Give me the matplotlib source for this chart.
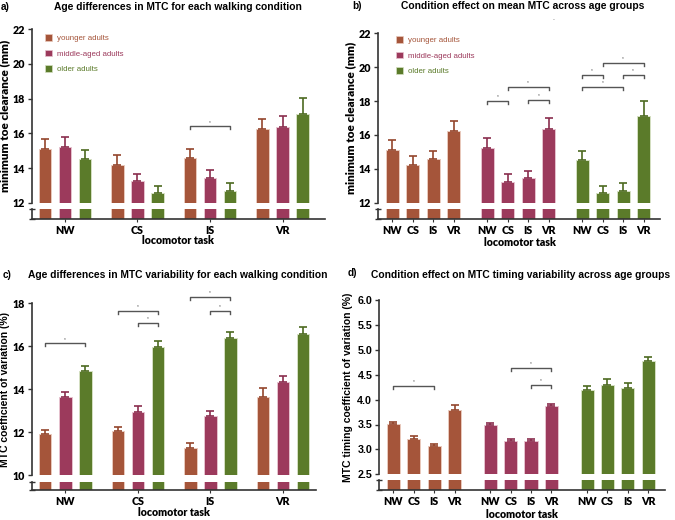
import numpy as np
import matplotlib.pyplot as plt
from matplotlib.patches import Patch

plt.rcParams['font.family'] = ['Liberation Sans', 'DejaVu Sans']

W, H = 675, 520

tasks = ['NW', 'CS', 'IS', 'VR']
groups = ['younger adults', 'middle-aged adults', 'older adults']
colors = ['#a5553a', '#9c3a5c', '#5b7b2a']
edge_colors = ['#e9cabd', '#e6c2cf', '#d5e0c2']
err_colors = ['#93452c', '#8a2d4e', '#4d6a20']

# mean minimum toe clearance (mm), one list per age group (NW, CS, IS, VR)
mtc_young = [15.12, 14.20, 14.58, 16.23]
mtc_middle = [15.23, 13.25, 13.43, 16.35]
mtc_older = [14.53, 12.57, 12.68, 17.14]
mtc_young_err = [0.56, 0.53, 0.50, 0.62]
mtc_middle_err = [0.56, 0.43, 0.46, 0.63]
mtc_older_err = [0.51, 0.41, 0.47, 0.88]

# MTC coefficient of variation (%)
cv_young = [11.91, 12.03, 11.27, 13.65]
cv_middle = [13.62, 12.95, 12.75, 14.35]
cv_older = [14.83, 15.95, 16.38, 16.57]
cv_young_err = [0.17, 0.19, 0.21, 0.42]
cv_middle_err = [0.26, 0.26, 0.23, 0.26]
cv_older_err = [0.25, 0.31, 0.27, 0.31]

# MTC timing coefficient of variation (%)
tim_young = [3.51, 3.21, 3.06, 3.80]
tim_middle = [3.50, 3.17, 3.17, 3.87]
tim_older = [4.20, 4.29, 4.24, 4.78]
tim_young_err = [0.04, 0.05, 0.04, 0.10]
tim_middle_err = [0.04, 0.03, 0.03, 0.05]
tim_older_err = [0.08, 0.13, 0.09, 0.08]

# significance brackets: (group1, task1, group2, task2, height)
sig_a = [(0, 2, 2, 2, 16.4)]
sig_b = [(1, 0, 1, 1, 18.0), (1, 1, 1, 3, 18.85), (1, 2, 1, 3, 18.05),
         (2, 0, 2, 1, 19.55), (2, 1, 2, 3, 20.25), (2, 2, 2, 3, 19.55),
         (2, 0, 2, 2, 18.85)]
sig_c = [(0, 0, 2, 0, 16.13), (0, 1, 2, 1, 17.66), (1, 1, 2, 1, 17.07),
         (0, 2, 2, 2, 18.28), (1, 2, 2, 2, 17.64)]
sig_d = [(0, 0, 0, 2, 4.27), (1, 1, 1, 3, 4.64), (1, 2, 1, 3, 4.29)]

fig = plt.figure(figsize=(W / 100, H / 100), dpi=100)


def px_axes(x0, x1, ytop, ybot):
    return fig.add_axes([x0 / W, 1 - ybot / H, (x1 - x0) / W, (ybot - ytop) / H])


def bar_x(g, by_task, gap):
    if by_task:
        return np.arange(4) + (g - 1) * 0.276
    return g * gap + np.arange(4)


def draw_panel(top, strip, xlim, ylim, yticks, ytl, means, errs, sigs,
               by_task, gap=1.0, tick_font='Lato', ylabel='', ylab_font='Lato',
               ylab_size=7.5, tick_weight='heavy'):
    ax = px_axes(*top)
    ax2 = px_axes(*strip)
    width = 0.172 if by_task else 0.64
    for g in range(3):
        xs = bar_x(g, by_task, gap)
        for a in (ax, ax2):
            a.bar(xs, means[g], width, color=colors[g], edgecolor=edge_colors[g],
                  linewidth=0.7)
        ax.errorbar(xs, means[g], yerr=[np.zeros(4), errs[g]], fmt='none',
                    ecolor=err_colors[g], elinewidth=1.2, capsize=2.6, capthick=1.2)
    ax.set_xlim(*xlim)
    ax.set_ylim(*ylim)
    ax2.set_xlim(*xlim)
    ax2.set_ylim(0, 1)
    for s in ('top', 'right', 'bottom'):
        ax.spines[s].set_visible(False)
    for s in ('top', 'right'):
        ax2.spines[s].set_visible(False)
    for a in (ax, ax2):
        for s in ('left', 'bottom'):
            a.spines[s].set_color('#333333')
            a.spines[s].set_linewidth(1.2)
    ax.set_xticks([])
    ax.set_yticks(yticks)
    ax.set_yticklabels(ytl, fontfamily=tick_font, fontweight=tick_weight, fontsize=7.7)
    ax.tick_params(axis='y', length=3, width=1, color='#333333', pad=2)
    ax2.set_yticks([0, 1])
    ax2.set_yticklabels([])
    ax2.tick_params(axis='y', length=4, width=1, direction='inout', color='#333333')
    if by_task:
        ax2.set_xticks(np.arange(4))
        ax2.set_xticklabels(tasks)
    else:
        ax2.set_xticks(np.concatenate([bar_x(g, False, gap) for g in range(3)]))
        ax2.set_xticklabels(tasks * 3)
    for t in ax2.get_xticklabels():
        t.set_fontfamily(tick_font)
        t.set_fontweight(tick_weight)
        t.set_fontsize(7.7)
    ax2.tick_params(axis='x', length=2, width=0.8, pad=2, color='#333333')
    ax.set_ylabel(ylabel, fontfamily=ylab_font, fontweight=tick_weight if ylab_font == 'Lato' else 'bold',
                  fontsize=ylab_size)

    # brackets
    hpx = (top[3] - top[2])
    drop = 3.0 * (ylim[1] - ylim[0]) / hpx
    for g1, t1, g2, t2, y in sigs:
        x1 = bar_x(g1, by_task, gap)[t1]
        x2 = bar_x(g2, by_task, gap)[t2]
        ax.plot([x1, x1, x2, x2], [y - drop, y, y, y - drop], color='#555555', lw=1.0,
                clip_on=False)
        ax.text((x1 + x2) / 2, y + drop * 0.6, '*', ha='center', va='bottom',
                fontsize=3.5, color='#555555')
    return ax, ax2


# a)
ax_a, ax_a2 = draw_panel((32, 325, 29.3, 202.7), (32, 325, 209.3, 219), (-0.455, 3.586),
                         (12, 22), [12, 14, 16, 18, 20, 22],
                         ['12', '14', '16', '18', '20', '22'],
                         [mtc_young, mtc_middle, mtc_older],
                         [mtc_young_err, mtc_middle_err, mtc_older_err],
                         sig_a, True, ylabel='minimum toe clearance (mm)', ylab_size=8.5)
# b)
ax_b, ax_b2 = draw_panel((377.7, 660, 33.3, 202.7), (377.7, 660, 209.3, 219), (-0.71, 13.06),
                         (12, 22), [12, 14, 16, 18, 20, 22],
                         ['12', '14', '16', '18', '20', '22'],
                         [mtc_young, mtc_middle, mtc_older],
                         [mtc_young_err, mtc_middle_err, mtc_older_err],
                         sig_b, False, gap=4.63, ylabel='minimum toe clearance (mm)', ylab_size=8.5)
# c)
ax_c, ax_c2 = draw_panel((31.7, 316, 303.3, 475), (31.7, 316, 481.7, 490), (-0.463, 3.458),
                         (10, 18), [10, 12, 14, 16, 18],
                         ['10', '12', '14', '16', '18'],
                         [cv_young, cv_middle, cv_older],
                         [cv_young_err, cv_middle_err, cv_older_err],
                         sig_c, True, ylabel='MTC coefficient of variation (%)',
                         ylab_font='Liberation Sans', ylab_size=7.5)
# d)
ax_d, ax_d2 = draw_panel((379.3, 665, 300, 474.3), (379.3, 665, 480, 490), (-0.69, 13.32),
                         (2.5, 6.0), [2.5, 3.0, 3.5, 4.0, 4.5, 5.0, 5.5, 6.0],
                         ['2.5', '3.0', '3.5', '4.0', '4.5', '5.0', '5.5', '6.0'],
                         [tim_young, tim_middle, tim_older],
                         [tim_young_err, tim_middle_err, tim_older_err],
                         sig_d, False, gap=4.75, tick_font='Liberation Sans',
                         ylabel='MTC timing coefficient of variation (%)',
                         ylab_font='Liberation Sans', tick_weight='bold')
for t in ax_d2.get_xticklabels():
    t.set_fontfamily('Lato')
    t.set_fontweight('heavy')

ax_a.yaxis.set_label_coords(-22 / 293, 0.5)
ax_b.yaxis.set_label_coords(-22 / 282.3, 0.5)
ax_c.yaxis.set_label_coords(-22 / 284.3, 0.5)
ax_d.yaxis.set_label_coords(-26 / 285.7, 0.5)

# x labels
for x, y in [(178, 241), (520, 243), (174, 513), (522, 514)]:
    fig.text(x / W, 1 - y / H, 'locomotor task', ha='center', va='center',
             fontfamily='Lato', fontweight='heavy', fontsize=7.7)

# titles
titles = [
    (1, 7, 'a)', 177.5, 7, 'Age differences in MTC for each walking condition'),
    (352, 6, 'b)', 523, 6, 'Condition effect on mean MTC across age groups'),
    (3, 275, 'c)', 177.5, 275, 'Age differences in MTC variability for each walking condition'),
    (348, 273, 'd)', 521, 275.5, 'Condition effect on MTC timing variability across age groups'),
]
for lx, ly, lab, tx, ty, txt in titles:
    fig.text(lx / W, 1 - ly / H, lab, ha='left', va='center', fontweight='bold', fontsize=7.2)
    fig.text(tx / W, 1 - ty / H, txt, ha='center', va='center', fontweight='bold', fontsize=7.35)

fig.text(553 / W, 1 - 19 / H, '.', ha='center', va='center', fontsize=5, color='#555555')

# legends
handles = [Patch(facecolor=colors[g], edgecolor=edge_colors[g], linewidth=0.5) for g in range(3)]
for ax, (lx, ly) in [(ax_a, (45, 34)), (ax_b, (396, 36))]:
    leg = ax.legend(handles, groups, loc='upper left', bbox_to_anchor=(lx / W, 1 - ly / H),
                    bbox_transform=fig.transFigure, frameon=False, fontsize=5.7,
                    handlelength=0.9, handleheight=0.9, handletextpad=0.6,
                    labelspacing=0.95, borderpad=0, borderaxespad=0)
    for t, c in zip(leg.get_texts(), colors):
        t.set_color(c)

plt.savefig('out.png', dpi=100)
